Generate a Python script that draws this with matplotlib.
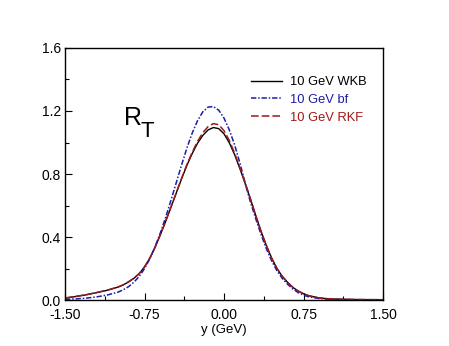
import matplotlib
matplotlib.use("Agg")
import matplotlib.pyplot as plt
from matplotlib.ticker import MultipleLocator, FixedLocator

plt.rcParams['font.family'] = ['Liberation Sans', 'DejaVu Sans']

# y values (GeV)
y = [-1.5, -1.4, -1.3, -1.2, -1.1, -1.0, -0.95, -0.9, -0.85, -0.8, -0.75, -0.7,
     -0.65, -0.6, -0.55, -0.5, -0.45, -0.4, -0.35, -0.3, -0.25, -0.2, -0.15, -0.1,
     -0.05, 0.0, 0.05, 0.1, 0.15, 0.2, 0.25, 0.3, 0.35, 0.4, 0.45, 0.5, 0.55, 0.6,
     0.65, 0.7, 0.75, 0.8, 0.9, 1.0, 1.1, 1.25, 1.5]

rt_wkb = [0.012, 0.022, 0.033, 0.047, 0.062, 0.082, 0.096, 0.115, 0.138, 0.167, 0.210, 0.265,
          0.335, 0.415, 0.500, 0.590, 0.680, 0.770, 0.855, 0.930, 0.995, 1.045, 1.080, 1.095,
          1.088, 1.055, 0.998, 0.923, 0.834, 0.740, 0.640, 0.535, 0.435, 0.345, 0.265, 0.200,
          0.150, 0.112, 0.080, 0.057, 0.040, 0.027, 0.013, 0.007, 0.005, 0.003, 0.002]

rt_bf = [0.004, 0.007, 0.012, 0.020, 0.032, 0.050, 0.065, 0.085, 0.113, 0.150, 0.199, 0.262,
         0.339, 0.427, 0.526, 0.634, 0.746, 0.858, 0.965, 1.060, 1.138, 1.195, 1.225, 1.228,
         1.205, 1.155, 1.080, 0.985, 0.870, 0.740, 0.620, 0.515, 0.415, 0.325, 0.248, 0.185,
         0.137, 0.100, 0.070, 0.047, 0.031, 0.020, 0.009, 0.005, 0.003, 0.002, 0.001]

rt_rkf = [0.013, 0.023, 0.034, 0.048, 0.063, 0.083, 0.097, 0.116, 0.139, 0.168, 0.211, 0.266,
          0.336, 0.416, 0.501, 0.591, 0.682, 0.773, 0.860, 0.938, 1.007, 1.062, 1.101, 1.120,
          1.113, 1.075, 1.013, 0.933, 0.840, 0.743, 0.641, 0.535, 0.435, 0.345, 0.265, 0.200,
          0.150, 0.112, 0.080, 0.057, 0.040, 0.027, 0.013, 0.007, 0.005, 0.003, 0.002]

labels = ["10 GeV WKB", "10 GeV bf", "10 GeV RKF"]
x_ticks = [-1.5, -0.75, 0.0, 0.75, 1.5]
y_ticks = [0.0, 0.4, 0.8, 1.2, 1.6]

fig = plt.figure(figsize=(4.49, 3.46), dpi=100)
ax = fig.add_axes([0.1448, 0.1329, 0.7082, 0.7284])

ax.plot(y, rt_wkb, color='black', lw=1.0, label=labels[0])
ax.plot(y, rt_bf, color='#1c1ca8', lw=1.1, linestyle=(0, (3.5, 1.2, 1, 1.2)), label=labels[1])
ax.plot(y, rt_rkf, color='#a01818', lw=1.1, linestyle=(0, (5, 2)), label=labels[2])

ax.set_xlim(-1.5, 1.5)
ax.set_ylim(0, 1.6)
ax.xaxis.set_major_locator(FixedLocator(x_ticks))
ax.xaxis.set_minor_locator(MultipleLocator(0.375))
ax.yaxis.set_major_locator(FixedLocator(y_ticks))
ax.yaxis.set_minor_locator(MultipleLocator(0.2))
ax.set_xticklabels([f"{t:.2f}" for t in x_ticks])
ax.set_yticklabels([f"{t:.1f}" for t in y_ticks])
ax.tick_params(which='both', direction='in', top=False, right=False, labelsize=10, width=0.8)
ax.tick_params(which='major', length=5)
ax.tick_params(which='minor', length=3)
ax.tick_params(axis='x', which='major', pad=6)
ax.tick_params(axis='y', which='major', pad=3)
for s in ax.spines.values():
    s.set_linewidth(1.0)

ax.set_xlabel("y (GeV)", fontsize=9.5, labelpad=1)
# R_T annotation, subscript drawn as its own text
ax.text(-0.945, 1.11, "R", fontsize=18, ha='left', va='baseline')
ax.text(-0.785, 1.035, "T", fontsize=16, ha='left', va='baseline')

leg = ax.legend(loc='upper right', bbox_to_anchor=(0.985, 0.935), frameon=False, fontsize=9.3,
                handlelength=2.4, handletextpad=0.6, labelspacing=0.45, labelcolor='linecolor')

fig.savefig("out.png", dpi=100)
